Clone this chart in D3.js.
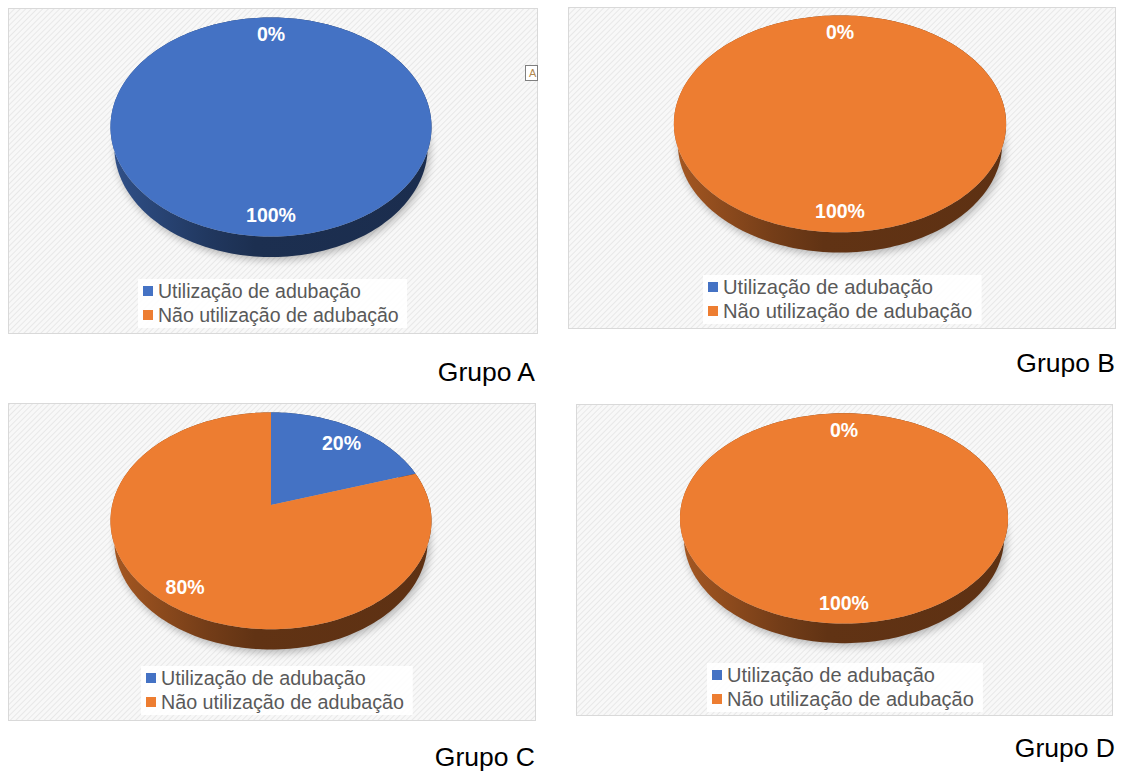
<!DOCTYPE html>
<html>
<head>
<meta charset="utf-8">
<script src="https://cdn.jsdelivr.net/npm/d3@7"></script>
<style>
  body { margin: 0; background: #fff; }
  text { font-family: "Liberation Sans", Arial, sans-serif; }
</style>
</head>
<body>
<script>
// dados
const grupos = ["Grupo A", "Grupo B", "Grupo C", "Grupo D"];
const categorias = ["Utilização de adubação", "Não utilização de adubação"];
const utilizacao = [100, 0, 20, 0];
const naoUtilizacao = [0, 100, 80, 100];
const cores = ["#4472C4", "#ED7D31"];

// posição de cada painel na página
const paineis = [
    {box: [8, 8, 529, 325], cx: 271, cy: 111, sx: 1.0, sy: 1.0, legX: 143, legY: 291, fs: 19.5, tx: 535, ty: 381},
    {box: [568, 7, 547, 321], cx: 840, cy: 108, sx: 1.035, sy: 0.99, legX: 708, legY: 287, fs: 20.2, tx: 1115, ty: 372},
    {box: [8, 403, 527, 317], cx: 271, cy: 505, sx: 1.0, sy: 0.99, legX: 146, legY: 678, fs: 19.7, tx: 535, ty: 766},
    {box: [576, 404, 536, 311], cx: 844, cy: 503, sx: 1.022, sy: 0.96, legX: 712, legY: 675, fs: 20, tx: 1115, ty: 757}
];

// perspectiva da pizza 3D
const S = 0.675, C = 0.738, D = 5.05, H = 0.179, W = 160.5;
const F = W * Math.sqrt(D * D - C * C);

const svg = d3.select("body").append("svg")
    .attr("width", 1124)
    .attr("height", 771);

const defs = svg.append("defs");

let hatch = defs.append("pattern")
    .attr("id", "hatch")
    .attr("width", 4)
    .attr("height", 4)
    .attr("patternUnits", "userSpaceOnUse")
    .attr("patternTransform", "rotate(45)");
hatch.append("rect").attr("width", 4).attr("height", 4).attr("fill", "#f8f8f8");
hatch.append("rect").attr("width", 1).attr("height", 4).attr("fill", "#e8e8e8");

defs.append("filter")
    .attr("id", "blur")
    .attr("x", "-20%").attr("y", "-20%").attr("width", "140%").attr("height", "140%")
    .append("feGaussianBlur")
    .attr("stdDeviation", 4);

const pie = d3.pie().sort(null);
const line = d3.line().curve(d3.curveLinearClosed);
const pct = d3.format(".0%");

function proj(p, theta, r, h) {
    let X = r * Math.sin(theta);
    let d = r * Math.cos(theta);
    let yc = d * S + h * C;
    let zc = D + d * C - h * S;
    return [p.cx + F * p.sx * X / zc, p.cy - F * p.sy * yc / zc];
}

function ring(p, a0, a1, h) {
    let n = Math.max(2, Math.ceil(Math.abs(a1 - a0) / (2 * Math.PI) * 240));
    let pts = [];
    for (let i = 0; i <= n; i++) {
        pts.push(proj(p, a0 + (a1 - a0) * i / n, 1, h));
    }
    return pts;
}

paineis.forEach(function (p, i) {
    let valores = [utilizacao[i], naoUtilizacao[i]];
    let total = d3.sum(valores);
    let arcs = pie(valores);

    let g = svg.append("g");

    // fundo do gráfico
    g.append("rect")
        .attr("x", p.box[0] + 0.5)
        .attr("y", p.box[1] + 0.5)
        .attr("width", p.box[2])
        .attr("height", p.box[3])
        .attr("fill", "url(#hatch)")
        .attr("stroke", "#d9d9d9");

    // degradê das laterais
    cores.forEach(function (c, j) {
        let grad = defs.append("linearGradient")
            .attr("id", "side" + i + "_" + j)
            .attr("gradientUnits", "userSpaceOnUse")
            .attr("x1", p.cx - W * p.sx)
            .attr("x2", p.cx + W * p.sx)
            .attr("y1", 0).attr("y2", 0);
        [[0, 1], [0.3, 2], [0.45, 2.5], [1, 2.6]].forEach(function (s) {
            grad.append("stop")
                .attr("offset", s[0])
                .attr("stop-color", d3.color(c).darker(s[1]).formatHex());
        });
    });

    // sombra
    g.append("path")
        .attr("d", line(ring(p, 0, 2 * Math.PI, -H).map(function (q) { return [q[0] + 2, q[1] + 3]; })))
        .attr("fill", "#000")
        .attr("opacity", 0.28)
        .attr("filter", "url(#blur)");

    // laterais
    g.selectAll(".side")
        .data(arcs.filter(function (d) { return d.endAngle > d.startAngle; }))
        .enter()
        .append("path")
        .attr("class", "side")
        .attr("fill", function (d) { return "url(#side" + i + "_" + d.index + ")"; })
        .attr("d", function (d) {
            let top = ring(p, d.startAngle, d.endAngle, 0);
            let bottom = ring(p, d.endAngle, d.startAngle, -H);
            return line(top.concat(bottom));
        });

    // topo
    g.selectAll(".top")
        .data(arcs.filter(function (d) { return d.endAngle > d.startAngle; }))
        .enter()
        .append("path")
        .attr("class", "top")
        .attr("fill", function (d) { return cores[d.index]; })
        .attr("d", function (d) {
            let pts = ring(p, d.startAngle, d.endAngle, 0);
            if (d.endAngle - d.startAngle < 2 * Math.PI - 1e-6) {
                pts.unshift(proj(p, 0, 0, 0));
            }
            return line(pts);
        });

    // rótulos
    g.selectAll(".lbl")
        .data(arcs)
        .enter()
        .append("text")
        .attr("class", "lbl")
        .attr("transform", function (d) {
            let q = proj(p, (d.startAngle + d.endAngle) / 2, 0.83, 0);
            return "translate(" + q[0] + "," + q[1] + ")";
        })
        .attr("dy", ".5em")
        .attr("text-anchor", "middle")
        .attr("fill", "#fff")
        .attr("font-weight", "bold")
        .attr("font-size", "19.5px")
        .text(function (d) { return pct(d.value / total); });

    // legenda
    let leg = g.append("g");
    leg.append("rect")
        .attr("x", p.legX - 5)
        .attr("y", p.legY - 12)
        .attr("width", 269 * p.fs / 19.5)
        .attr("height", 49)
        .attr("fill", "#fff")
        .attr("opacity", 0.9);
    categorias.forEach(function (c, j) {
        let y = p.legY + j * 24;
        leg.append("rect")
            .attr("x", p.legX)
            .attr("y", y - 5)
            .attr("width", 10)
            .attr("height", 10)
            .attr("fill", cores[j]);
        leg.append("text")
            .attr("x", p.legX + 15)
            .attr("y", y + 7)
            .attr("font-size", p.fs + "px")
            .attr("fill", "#595959")
            .text(c);
    });

    svg.append("text")
        .attr("x", p.tx)
        .attr("y", p.ty)
        .attr("text-anchor", "end")
        .attr("font-size", "26.5px")
        .attr("fill", "#000")
        .text(grupos[i]);
});

// ícone de opções colado ao gráfico A
svg.append("rect")
    .attr("x", 525.5).attr("y", 65.5)
    .attr("width", 12).attr("height", 15)
    .attr("fill", "#fff")
    .attr("stroke", "#7f7f7f");
svg.append("text")
    .attr("x", 529).attr("y", 77)
    .attr("font-size", "11px")
    .attr("fill", "#b08850")
    .text("A");
</script>
</body>
</html>
